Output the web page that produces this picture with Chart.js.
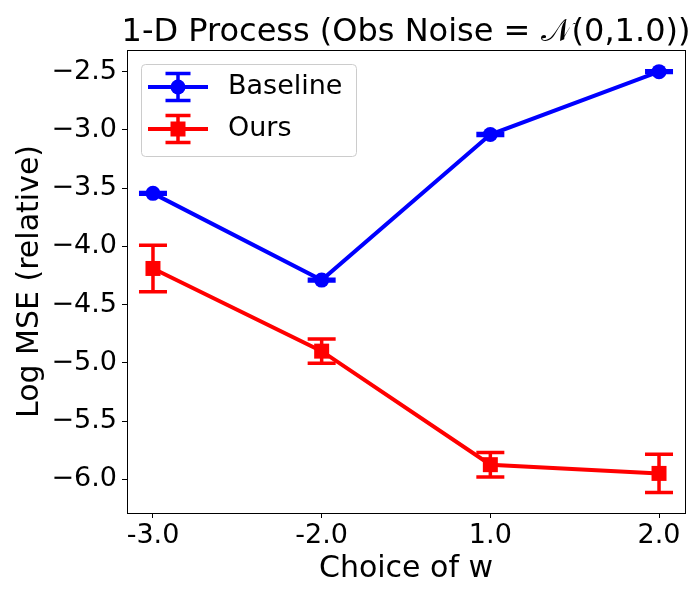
<!DOCTYPE html>
<html>
<head>
<meta charset="utf-8">
<script src="https://cdn.jsdelivr.net/npm/chart.js@4.4.1/dist/chart.umd.min.js"></script>
<style>
html, body { margin: 0; padding: 0; background: #fff; }
</style>
</head>
<body>
<canvas id="mseChart" width="700" height="600"></canvas>
<script>
// values
var xLabels = ['-3.0', '-2.0', '1.0', '2.0'];
var baselineMse = [-3.545, -4.29, -3.04, -2.50];
var baselineErr = [0.008, 0.008, 0.008, 0.008];
var oursMse = [-4.19, -4.90, -5.875, -5.95];
var oursErr = [0.20, 0.105, 0.105, 0.165];
var yTicks = [-6.0, -5.5, -5.0, -4.5, -4.0, -3.5, -3.0, -2.5];

const FONT = "'DejaVu Sans', 'Liberation Sans', sans-serif";
const BLUE = '#0000ff';
const RED = '#ff0000';
const CAP = 14;

function toPoints(values) {
    return values.map(function (v, i) {
        return {x: i, y: v};
    });
}

function drawErrorGlyph(ctx, cx, top, bot, cap) {
    ctx.beginPath();
    ctx.moveTo(cx, top);
    ctx.lineTo(cx, bot);
    ctx.moveTo(cx - cap, top);
    ctx.lineTo(cx + cap, top);
    ctx.moveTo(cx - cap, bot);
    ctx.lineTo(cx + cap, bot);
    ctx.stroke();
}

var errorBars = {
    id: 'errorBars',
    afterDatasetsDraw: function (chart) {
        var ctx = chart.ctx;
        var x = chart.scales.x, y = chart.scales.y;
        chart.data.datasets.forEach(function (ds) {
            ctx.save();
            ctx.strokeStyle = ds.borderColor;
            ctx.lineWidth = 3.5;
            ds.data.forEach(function (p, i) {
                var px = x.getPixelForValue(p.x);
                var top = y.getPixelForValue(p.y + ds.errors[i]);
                var bot = y.getPixelForValue(p.y - ds.errors[i]);
                drawErrorGlyph(ctx, px, top, bot, CAP);
            });
            ctx.restore();
        });
    }
};

// frame, title and legend box (matplotlib style)
var decorations = {
    id: 'decorations',
    afterDraw: function (chart) {
        var ctx = chart.ctx;
        var ca = chart.chartArea;
        ctx.save();
        ctx.strokeStyle = '#000';
        ctx.lineWidth = 1;
        ctx.strokeRect(Math.round(ca.left) + 0.5, Math.round(ca.top) + 0.5,
            Math.round(ca.right - ca.left), Math.round(ca.bottom - ca.top));

        ctx.fillStyle = '#000';
        ctx.font = '32px ' + FONT;
        ctx.textAlign = 'center';
        ctx.textBaseline = 'middle';
        ctx.fillText('1-D Process (Obs Noise = \u{1D4A9}(0,1.0))', (ca.left + ca.right) / 2, 33);

        var bx = ca.left + 14, by = ca.top + 14, bw = 215, bh = 92;
        ctx.beginPath();
        ctx.roundRect(bx + 0.5, by + 0.5, bw, bh, 4);
        ctx.fillStyle = 'rgba(255,255,255,0.8)';
        ctx.fill();
        ctx.strokeStyle = '#cccccc';
        ctx.stroke();

        chart.data.datasets.forEach(function (ds, i) {
            var cy = by + 23 + i * 42;
            var cx = bx + 37;
            ctx.strokeStyle = ds.borderColor;
            ctx.fillStyle = ds.borderColor;
            ctx.lineWidth = 4;
            ctx.beginPath();
            ctx.moveTo(bx + 7, cy);
            ctx.lineTo(bx + 67, cy);
            ctx.stroke();
            ctx.lineWidth = 3.5;
            drawErrorGlyph(ctx, cx, cy - 13.5, cy + 13.5, 12.5);
            ctx.beginPath();
            if (ds.pointStyle === 'rect') {
                ctx.rect(cx - 7.5, cy - 7.5, 15, 15);
            } else {
                ctx.arc(cx, cy, 7.5, 0, Math.PI * 2);
            }
            ctx.fill();
            ctx.fillStyle = '#000';
            ctx.font = '27px ' + FONT;
            ctx.textAlign = 'left';
            ctx.textBaseline = 'middle';
            ctx.fillText(ds.label, bx + 87, cy);
        });
        ctx.restore();
    }
};

var ctx = document.getElementById('mseChart');
var mseChart = new Chart(ctx, {
    type: 'line',
    data: {
        datasets: [
            {
                label: 'Baseline',
                data: toPoints(baselineMse),
                errors: baselineErr,
                borderColor: BLUE,
                backgroundColor: BLUE,
                borderWidth: 4,
                pointStyle: 'circle',
                pointRadius: 7.5,
                pointBorderWidth: 0,
                tension: 0
            },
            {
                label: 'Ours',
                data: toPoints(oursMse),
                errors: oursErr,
                borderColor: RED,
                backgroundColor: RED,
                borderWidth: 4,
                pointStyle: 'rect',
                pointRadius: 10.6,
                pointBorderWidth: 0,
                tension: 0
            }
        ]
    },
    options: {
        responsive: false,
        animation: false,
        devicePixelRatio: 1,
        layout: {padding: {top: 50, right: 15, left: 0, bottom: 0}},
        plugins: {
            legend: {display: false},
            title: {display: false},
            tooltip: {enabled: false}
        },
        scales: {
            x: {
                type: 'linear',
                min: -0.154,
                max: 3.154,
                afterBuildTicks: function (scale) {
                    scale.ticks = xLabels.map(function (l, i) {
                        return {value: i};
                    });
                },
                afterFit: function (scale) {
                    scale.height = 87;
                },
                ticks: {
                    callback: function (v) { return xLabels[v]; },
                    font: {family: FONT, size: 27},
                    color: '#000',
                    padding: 2,
                    maxRotation: 0,
                    autoSkip: false
                },
                grid: {drawOnChartArea: false, drawTicks: true, tickLength: 5, tickColor: '#000'},
                border: {display: true, color: '#000', width: 1},
                title: {
                    display: true,
                    text: 'Choice of w',
                    font: {family: FONT, size: 30},
                    color: '#000',
                    padding: {top: 0, bottom: 13}
                }
            },
            y: {
                min: -6.29,
                max: -2.314,
                afterBuildTicks: function (scale) {
                    scale.ticks = yTicks.map(function (v) {
                        return {value: v};
                    });
                },
                afterFit: function (scale) {
                    scale.width = 127;
                },
                ticks: {
                    callback: function (v) { return v.toFixed(1).replace('-', '\u2212'); },
                    font: {family: FONT, size: 27},
                    color: '#000',
                    padding: 5
                },
                grid: {drawOnChartArea: false, drawTicks: true, tickLength: 5, tickColor: '#000'},
                border: {display: true, color: '#000', width: 1},
                title: {
                    display: true,
                    text: 'Log MSE (relative)',
                    font: {family: FONT, size: 30},
                    color: '#000',
                    padding: {top: 12, bottom: 0}
                }
            }
        }
    },
    plugins: [errorBars, decorations]
});
</script>
</body>
</html>
